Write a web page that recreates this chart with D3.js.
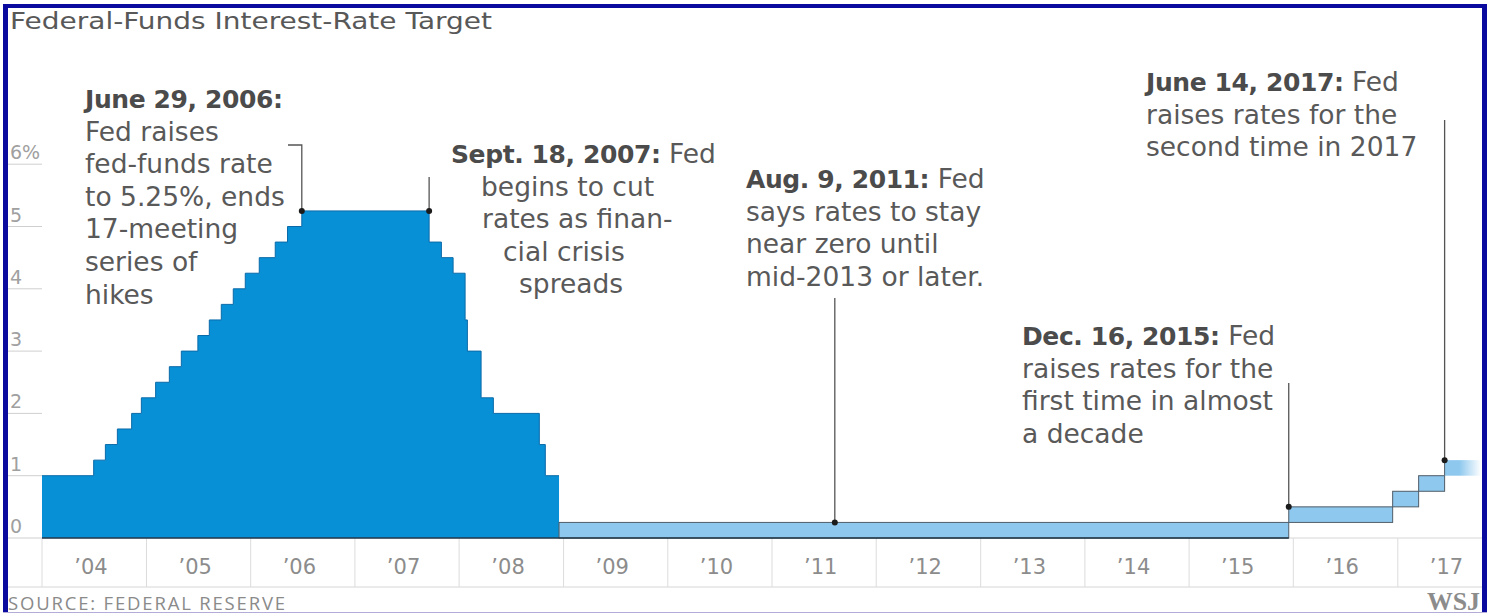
<!DOCTYPE html>
<html lang="en">
<head>
<meta charset="UTF-8">
<title>Federal-Funds Interest-Rate Target</title>
<script src="https://d3js.org/d3.v7.min.js"></script>
<style>
  body { margin: 0; background: #fff; }
  svg { display: block; font-family: "DejaVu Sans", sans-serif; }
  .note { font-size: 26.5px; fill: #595959; }
  .note .head { font-weight: 700; fill: #4b4b4b; font-size: 25px; letter-spacing: -0.4px; }
  .ytick { font-size: 19px; fill: #a0a0a0; }
  .xtick { font-size: 21px; fill: #8c8c8c; }
</style>
</head>
<body>
<div id="chart"></div>
<script>
// single target rate, 2004 through the Dec 2008 cut
const rateDates = ["2004-01-01", "2004-06-30", "2004-08-10", "2004-09-21", "2004-11-10", "2004-12-14",
    "2005-02-02", "2005-03-22", "2005-05-03", "2005-06-30", "2005-08-09", "2005-09-20", "2005-11-01",
    "2005-12-13", "2006-01-31", "2006-03-28", "2006-05-10", "2006-06-29", "2007-09-18", "2007-10-31",
    "2007-12-11", "2008-01-22", "2008-01-30", "2008-03-18", "2008-04-30", "2008-10-08", "2008-10-29"];
const rateValues = [1.00, 1.25, 1.50, 1.75, 2.00, 2.25,
    2.50, 2.75, 3.00, 3.25, 3.50, 3.75, 4.00,
    4.25, 4.50, 4.75, 5.00, 5.25, 4.75, 4.50,
    4.25, 3.50, 3.00, 2.25, 2.00, 1.50, 1.00];
const singleEnd = "2008-12-16";

// target ranges since Dec 2008
const rangeDates = ["2008-12-16", "2015-12-16", "2016-12-14", "2017-03-15", "2017-06-14"];
const rangeLows = [0, 0.25, 0.50, 0.75, 1.00];
const rangeHighs = [0.25, 0.50, 0.75, 1.00, 1.25];
const rangeEnd = "2017-10-20";

const yTicks = [0, 1, 2, 3, 4, 5, 6];
const yTickLabels = ["0", "1", "2", "3", "4", "5", "6%"];
const years = [2004, 2005, 2006, 2007, 2008, 2009, 2010, 2011, 2012, 2013, 2014, 2015, 2016, 2017];
const yearLabels = ["’04", "’05", "’06", "’07", "’08", "’09", "’10", "’11", "’12", "’13", "’14", "’15", "’16", "’17"];

// annotated events
const eventDates = ["2006-06-29", "2007-09-18", "2011-08-09", "2015-12-16", "2017-06-14"];
const eventValues = [5.25, 5.25, 0.25, 0.50, 1.25];
const eventHeads = ["June 29, 2006:", "Sept. 18, 2007:", "Aug. 9, 2011:", "Dec. 16, 2015:", "June 14, 2017:"];
const eventLines = [
    ["", "Fed raises", "fed-funds rate", "to 5.25%, ends", "17-meeting", "series of", "hikes"],
    [" Fed", "begins to cut", "rates as finan-", "cial crisis", "spreads"],
    [" Fed", "says rates to stay", "near zero until", "mid-2013 or later."],
    [" Fed", "raises rates for the", "first time in almost", "a decade"],
    [" Fed", "raises rates for the", "second time in 2017"]
];

const W = 1492, H = 614;
const parse = d3.timeParse("%Y-%m-%d");

const svg = d3.select("#chart").append("svg")
    .attr("width", W)
    .attr("height", H);

const x = d3.scaleTime()
    .domain([new Date(2004, 0, 1), new Date(2018, 0, 1)])
    .range([42, 1502]);
const y = d3.scaleLinear()
    .domain([0, 6])
    .range([538, 164.2]);
const plotRight = 1482;

const defs = svg.append("defs");
const fade = defs.append("linearGradient").attr("id", "fade");
fade.append("stop").attr("offset", "0%").attr("stop-color", "#8ec8ee");
fade.append("stop").attr("offset", "40%").attr("stop-color", "#8ec8ee");
fade.append("stop").attr("offset", "100%").attr("stop-color", "#ffffff");
const fadeLine = defs.append("linearGradient").attr("id", "fadeLine");
fadeLine.append("stop").attr("offset", "0%").attr("stop-color", "#666");
fadeLine.append("stop").attr("offset", "100%").attr("stop-color", "#ddd");

// title
svg.append("text")
    .attr("x", 10).attr("y", 29)
    .attr("font-size", 23)
    .attr("fill", "#585858")
    .attr("textLength", 482)
    .attr("lengthAdjust", "spacingAndGlyphs")
    .text("Federal-Funds Interest-Rate Target");

// y ticks: short rules at the left with labels sitting on top
yTicks.forEach((t, i) => {
    svg.append("line")
        .attr("x1", 8).attr("x2", x.range()[0])
        .attr("y1", y(t)).attr("y2", y(t))
        .attr("stroke", "#cfcfcf");
    svg.append("text")
        .attr("class", "ytick")
        .attr("x", 10).attr("y", y(t) - 5)
        .text(yTickLabels[i]);
});

// x axis band
const axisBottom = 587;
svg.append("line")
    .attr("x1", x.range()[0]).attr("x2", plotRight)
    .attr("y1", y(0)).attr("y2", y(0))
    .attr("stroke", "#d6d6d6");
svg.append("line")
    .attr("x1", 8).attr("x2", plotRight)
    .attr("y1", axisBottom).attr("y2", axisBottom)
    .attr("stroke", "#d6d6d6");
years.forEach((yr, i) => {
    const x0 = x(new Date(yr, 0, 1));
    svg.append("line")
        .attr("x1", x0).attr("x2", x0)
        .attr("y1", y(0)).attr("y2", axisBottom)
        .attr("stroke", "#dcdcdc");
    svg.append("text")
        .attr("class", "xtick")
        .attr("x", x(new Date(yr, 6, 1)) - 3)
        .attr("y", 574)
        .attr("text-anchor", "middle")
        .text(yearLabels[i]);
});

// dark filled steps up to Dec 2008
const steps = rateDates.map((d, i) => ({ date: parse(d), value: rateValues[i] }));
steps.push({ date: parse(singleEnd), value: rateValues[rateValues.length - 1] });

const area = d3.area()
    .x(d => x(d.date))
    .y0(y(0))
    .y1(d => y(d.value))
    .curve(d3.curveStepAfter);
svg.append("path")
    .datum(steps)
    .attr("d", area)
    .attr("fill", "#0890d7");

svg.append("path")
    .datum(steps)
    .attr("d", d3.line().x(d => x(d.date)).y(d => y(d.value)).curve(d3.curveStepAfter))
    .attr("fill", "none")
    .attr("stroke", "#0a6aa8")
    .attr("stroke-width", 1);

// range bands after Dec 2008
const bands = rangeDates.map((d, i) => ({
    start: parse(d),
    end: parse(i < rangeDates.length - 1 ? rangeDates[i + 1] : rangeEnd),
    lo: rangeLows[i],
    hi: rangeHighs[i],
    last: i === rangeDates.length - 1
}));
bands.forEach(b => {
    svg.append("rect")
        .attr("x", x(b.start))
        .attr("y", y(b.hi))
        .attr("width", x(b.end) - x(b.start))
        .attr("height", y(b.lo) - y(b.hi))
        .attr("fill", b.last ? "url(#fade)" : "#8ec8ee")
        .attr("stroke", b.last ? "none" : "#4f5d68")
        .attr("stroke-width", 1);
    if (b.last) {
        [b.lo, b.hi].forEach(v => {
            svg.append("line")
                .attr("x1", x(b.start)).attr("x2", x(b.end))
                .attr("y1", y(v)).attr("y2", y(v))
                .attr("stroke", "url(#fadeLine)");
        });
        svg.append("line")
            .attr("x1", x(b.start)).attr("x2", x(b.start))
            .attr("y1", y(b.lo)).attr("y2", y(b.hi))
            .attr("stroke", "#4f5d68");
    }
});

// dark baseline under the filled data
svg.append("line")
    .attr("x1", x.range()[0]).attr("x2", x(parse(rangeDates[1])))
    .attr("y1", y(0)).attr("y2", y(0))
    .attr("stroke", "#22384a")
    .attr("stroke-width", 1.5);

// annotations: text block, leader line, dot
const lineH = 32.6;
const noteLayout = [
    { x: 85, y: 108, indent: [0, 0, 0, 0, 0, 0, 0], top: 145, corner: 288 },
    { x: 451, y: 163, indent: [0, 30, 31, 52, 68], top: 177 },
    { x: 746, y: 188, indent: [0, 0, 0, 0], top: 298 },
    { x: 1022, y: 345, indent: [0, 0, 0, 0], top: 383 },
    { x: 1146, y: 91, indent: [0, 0, 0], top: 120 }
];

eventDates.forEach((d, i) => {
    const px = x(parse(d)), py = y(eventValues[i]);
    const L = noteLayout[i];

    const t = svg.append("text").attr("class", "note");
    eventLines[i].forEach((line, j) => {
        const row = t.append("tspan")
            .attr("x", L.x + L.indent[j])
            .attr("y", L.y + j * lineH);
        if (j === 0) {
            row.append("tspan").attr("class", "head").text(eventHeads[i]);
            row.append("tspan").text(line);
        } else {
            row.text(line);
        }
    });

    const pts = L.corner ? [[L.corner, L.top], [px, L.top], [px, py]] : [[px, L.top], [px, py]];
    svg.append("path")
        .attr("d", d3.line()(pts))
        .attr("fill", "none")
        .attr("stroke", "#555")
        .attr("stroke-width", 1.3);
    svg.append("circle")
        .attr("cx", px).attr("cy", py)
        .attr("r", 3)
        .attr("fill", "#1b1b1b");
});

// footer
svg.append("text")
    .attr("x", 8).attr("y", 610)
    .attr("font-family", "'Open Sans', sans-serif")
    .attr("font-size", 18.5)
    .attr("fill", "#8a8a8a")
    .attr("textLength", 277)
    .text("SOURCE: FEDERAL RESERVE");
svg.append("text")
    .attr("x", 1480).attr("y", 610)
    .attr("text-anchor", "end")
    .attr("font-family", "'Liberation Serif', serif")
    .attr("font-weight", 700)
    .attr("font-size", 25)
    .attr("fill", "#8c8c8c")
    .attr("textLength", 53)
    .attr("lengthAdjust", "spacingAndGlyphs")
    .text("WSJ");

// frame
const blue = "#0a0a9e";
svg.append("rect").attr("x", 3).attr("y", 4).attr("width", 5).attr("height", 609).attr("fill", blue);
svg.append("rect").attr("x", 3).attr("y", 4).attr("width", 1484).attr("height", 4).attr("fill", blue);
svg.append("rect").attr("x", 1482).attr("y", 4).attr("width", 5).attr("height", 609).attr("fill", blue);
svg.append("line")
    .attr("x1", 3).attr("x2", 1487)
    .attr("y1", 612.5).attr("y2", 612.5)
    .attr("stroke", "#b4acd8");
</script>
</body>
</html>
